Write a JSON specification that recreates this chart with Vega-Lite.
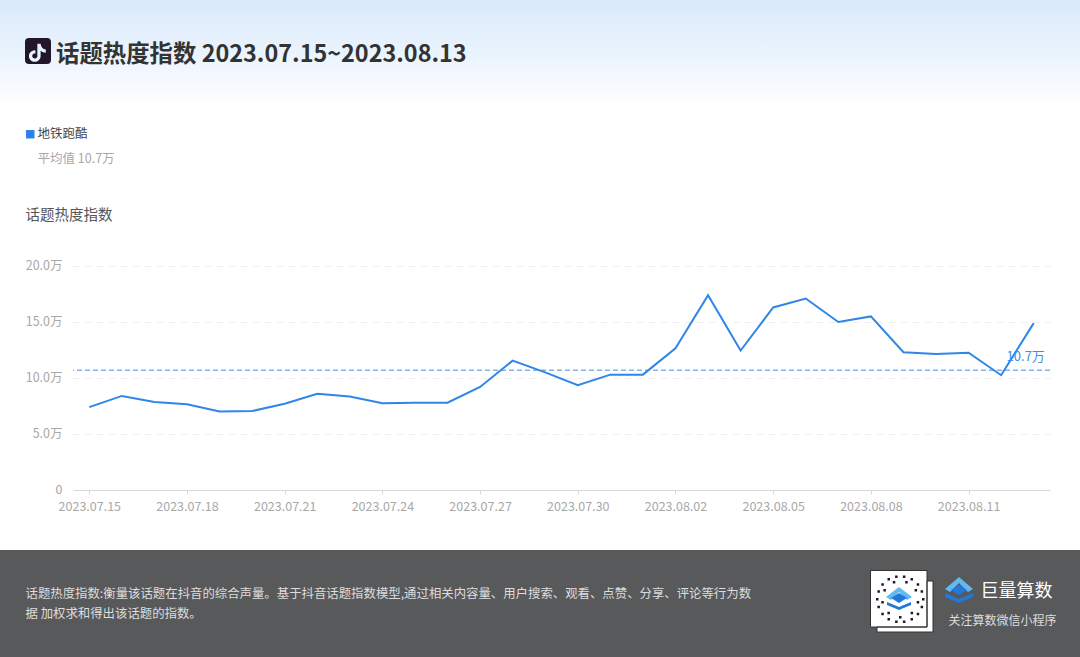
{
"$schema":"https://vega.github.io/schema/vega-lite/v6.json",
"width":977,"height":224,
"autosize":{"type":"none"},
"padding":{"left":73,"top":266,"right":30,"bottom":167},
"background":"#ffffff",
"config":{"font":"Noto Sans CJK SC","view":{"stroke":null}},
"title":{"text":"话题热度指数 2023.07.15~2023.08.13","anchor":"start","frame":"group","dx":-17,"dy":68,"offset":0,"fontSize":23.4,"fontWeight":"bold","color":"#333333","font":"Noto Sans CJK SC","zindex":5},
"datasets":{"trend":[
{"date":"2023.07.15","value":74000,"series":"地铁跑酷"},
{"date":"2023.07.16","value":84000,"series":"地铁跑酷"},
{"date":"2023.07.17","value":78500,"series":"地铁跑酷"},
{"date":"2023.07.18","value":76500,"series":"地铁跑酷"},
{"date":"2023.07.19","value":70000,"series":"地铁跑酷"},
{"date":"2023.07.20","value":70500,"series":"地铁跑酷"},
{"date":"2023.07.21","value":77000,"series":"地铁跑酷"},
{"date":"2023.07.22","value":86000,"series":"地铁跑酷"},
{"date":"2023.07.23","value":83500,"series":"地铁跑酷"},
{"date":"2023.07.24","value":77500,"series":"地铁跑酷"},
{"date":"2023.07.25","value":78000,"series":"地铁跑酷"},
{"date":"2023.07.26","value":78000,"series":"地铁跑酷"},
{"date":"2023.07.27","value":92000,"series":"地铁跑酷"},
{"date":"2023.07.28","value":115500,"series":"地铁跑酷"},
{"date":"2023.07.29","value":105000,"series":"地铁跑酷"},
{"date":"2023.07.30","value":93500,"series":"地铁跑酷"},
{"date":"2023.07.31","value":103000,"series":"地铁跑酷"},
{"date":"2023.08.01","value":103000,"series":"地铁跑酷"},
{"date":"2023.08.02","value":126500,"series":"地铁跑酷"},
{"date":"2023.08.03","value":174000,"series":"地铁跑酷"},
{"date":"2023.08.04","value":124500,"series":"地铁跑酷"},
{"date":"2023.08.05","value":163000,"series":"地铁跑酷"},
{"date":"2023.08.06","value":171000,"series":"地铁跑酷"},
{"date":"2023.08.07","value":150000,"series":"地铁跑酷"},
{"date":"2023.08.08","value":155000,"series":"地铁跑酷"},
{"date":"2023.08.09","value":123000,"series":"地铁跑酷"},
{"date":"2023.08.10","value":121500,"series":"地铁跑酷"},
{"date":"2023.08.11","value":122500,"series":"地铁跑酷"},
{"date":"2023.08.12","value":102500,"series":"地铁跑酷"},
{"date":"2023.08.13","value":149000,"series":"地铁跑酷"}
],"mean":[{"date":"2023.08.13","value":107000,"series":"平均值 10.7万","label":"10.7万"}]},
"resolve":{"axis":{"x":"independent","y":"independent"}},
"layer":[
{"data":{"name":"trend"},"mark":{"type":"line","strokeWidth":2,"interpolate":"linear"},
"encoding":{
"x":{"field":"date","type":"ordinal","sort":null,"scale":{"type":"point","padding":0.5},
"axis":{"orient":"bottom","zindex":4,"values":["2023.07.15","2023.07.18","2023.07.21","2023.07.24","2023.07.27","2023.07.30","2023.08.02","2023.08.05","2023.08.08","2023.08.11"],"labelAngle":0,"labelColor":"#a8a8a8","labelFontSize":12.5,"labelPadding":6,"tickColor":"#d9d9d9","tickSize":4,"domainColor":"#d9d9d9","grid":false,
"title":["话题热度指数:衡量该话题在抖音的综合声量。基于抖音话题指数模型,通过相关内容量、用户搜索、观看、点赞、分享、评论等行为数","据 加权求和得出该话题的指数。"],"titleColor":"#dddddd","titleFontSize":12.4,"titleFontWeight":"normal","titleX":-48,"titleY":97,"titleAlign":"left","titleAnchor":"start","titleBaseline":"top","titleLineHeight":20}},
"y":{"field":"value","type":"quantitative","scale":{"domain":[0,200000]},
"axis":{"orient":"left","values":[0,50000,100000,150000,200000],"labelExpr":"datum.value===0?'0':format(datum.value/10000,'.1f')+'万'","labelColor":"#a8a8a8","labelFontSize":12.5,"labelPadding":11,"labelOffset":-1,"domain":false,"ticks":false,"grid":true,"gridColor":"#eeeeee","gridDash":[6,6],
"title":"话题热度指数","titleColor":"#555555","titleFontSize":14.5,"titleFontWeight":"normal","titleAngle":0,"titleX":-48,"titleY":-51,"titleAlign":"left","titleBaseline":"middle"}},
"color":{"field":"series","type":"nominal","scale":{"domain":["地铁跑酷","平均值 10.7万"],"range":["#2f86e8","#2f86e8"]},
"legend":{"title":null,"orient":"none","legendX":-49,"legendY":-138,"zindex":6,"padding":0,"rowPadding":12,"labelFontSize":12.5,"labelOffset":1,"symbolType":"square","symbolSize":50,"symbolFillColor":"#2b7de9",
"encode":{"labels":{"update":{"fill":{"signal":"datum.value==='地铁跑酷'?'#444444':'#a8a8a8'"}}},"symbols":{"update":{"fill":{"value":"#2b7de9"},"opacity":{"signal":"datum.value==='地铁跑酷'?1:0"}}}}}}
}},
{"data":{"name":"mean"},"mark":{"type":"rule","strokeWidth":1,"strokeDash":[5,3],"color":"#3d8fe8"},
"encoding":{"y":{"field":"value","type":"quantitative","axis":null}}},
{"data":{"name":"mean"},"mark":{"type":"text","dx":-8,"dy":-13,"fontSize":13,"color":"#3d8fe8"},
"encoding":{"x":{"field":"date","type":"ordinal","sort":null,"axis":null},"y":{"field":"value","type":"quantitative","axis":null},"text":{"field":"label"}}},
{"data":{"values":[]},"mark":{"type":"point","filled":true},
"encoding":{
"x":{"field":"date","type":"ordinal","sort":null,"axis":{"orient":"top","zindex":4,"domain":false,"ticks":false,"labels":false,"grid":false,"title":"关注算数微信小程序","titleColor":"#dddddd","titleFontSize":12,"titleFontWeight":"normal","titleAlign":"left","titleBaseline":"middle","titleAnchor":"start","titleX":875,"titleY":354}},
"y":{"field":"value","type":"quantitative","axis":{"orient":"right","zindex":4,"domain":false,"ticks":false,"labels":false,"grid":false,"title":"巨量算数","titleColor":"#ffffff","titleFontSize":18,"titleFontWeight":"normal","titleAngle":0,"titleAlign":"left","titleBaseline":"middle","titleX":-70,"titleY":325}},
"shape":{"field":"k1","type":"nominal","scale":{"domain":["header"],"range":["M0 0 H1080 V110 H0 Z"]},"legend":{"title":null,"orient":"none","legendX":-74,"legendY":-267,"padding":0,"zindex":0,"labelExpr":"''","labelFontSize":2,"symbolSize":4,"symbolStrokeWidth":0,"symbolStrokeColor":"transparent","symbolOpacity":1,"symbolFillColor":{"value":{"gradient":"linear","x1":0,"y1":0,"x2":0,"y2":1,"stops":[{"offset":0,"color":"#d9e9fb"},{"offset":0.45,"color":"#e9f3fd"},{"offset":1,"color":"#ffffff"}]}}}},
"opacity":{"field":"k3","type":"nominal","scale":{"domain":["footer"],"range":[1]},"legend":{"title":null,"orient":"none","legendX":-74,"legendY":-267,"padding":0,"zindex":0,"labelExpr":"''","labelFontSize":2,"symbolSize":4,"symbolStrokeWidth":0,"symbolStrokeColor":"transparent","symbolFillColor":"#58595b","symbolType":"M0 550 H1080 V657 H0 Z"}},
"strokeWidth":{"field":"k6","type":"nominal","scale":{"domain":["cards"],"range":[1]},"legend":{"title":null,"orient":"none","legendX":-74,"legendY":-267,"padding":0,"zindex":1,"labelExpr":"''","labelFontSize":2,"symbolSize":4,"symbolOpacity":1,"symbolFillColor":"#ffffff","symbolStrokeColor":"#333333","symbolType":"M871.5 571.5 H928 V628 H871.5 Z M928 582 H934 V633 H878 V628 H928 Z"}},
"strokeDash":{"field":"k7","type":"nominal","scale":{"domain":["dark"],"range":[[1,0]]},"legend":{"title":null,"orient":"none","legendX":-74,"legendY":-267,"padding":0,"zindex":2,"labelExpr":"''","labelFontSize":2,"symbolSize":4,"symbolOpacity":1,"symbolStrokeWidth":0,"symbolStrokeColor":"transparent","symbolFillColor":"#221729","symbolType":"M29 38 Q25 38 25 42 V60 Q25 64 29 64 H47 Q51 64 51 60 V42 Q51 38 47 38 Z M37.35 43.7 H40.6 Q41.25 48.9 45.8 49.55 V52.8 Q42.55 52.8 40.6 50.85 V55.4 A5.85 5.85 0 1 1 35.4 50.2 V53.45 A2.6 2.6 0 1 0 37.35 55.4 Z M922 598 h2.5 v2.5 h-2.5 Z M920.6 605.8 h2.5 v2.5 h-2.5 Z M916.7 612.7 h2.5 v2.5 h-2.5 Z M910.5 618 h2.5 v2.5 h-2.5 Z M902.9 620.5 h2.5 v2.5 h-2.5 Z M895.1 620.5 h2.5 v2.5 h-2.5 Z M887.5 618 h2.5 v2.5 h-2.5 Z M881.3 612.7 h2.5 v2.5 h-2.5 Z M877.4 605.8 h2.5 v2.5 h-2.5 Z M876 598 h2.5 v2.5 h-2.5 Z M877.4 590.2 h2.5 v2.5 h-2.5 Z M881.3 583.3 h2.5 v2.5 h-2.5 Z M887.5 578 h2.5 v2.5 h-2.5 Z M895.1 575.5 h2.5 v2.5 h-2.5 Z M902.9 575.5 h2.5 v2.5 h-2.5 Z M910.5 578 h2.5 v2.5 h-2.5 Z M916.7 583.3 h2.5 v2.5 h-2.5 Z M920.6 590.2 h2.5 v2.5 h-2.5 Z M916.7 601.1 h2.5 v2.5 h-2.5 Z M910.6 611.8 h2.5 v2.5 h-2.5 Z M899 616 h2.5 v2.5 h-2.5 Z M887.4 611.8 h2.5 v2.5 h-2.5 Z M881.3 601.1 h2.5 v2.5 h-2.5 Z M883.4 589 h2.5 v2.5 h-2.5 Z M892.8 581.1 h2.5 v2.5 h-2.5 Z M905.2 581.1 h2.5 v2.5 h-2.5 Z M914.6 589 h2.5 v2.5 h-2.5 Z"}},
"fill":{"field":"k8","type":"nominal","scale":{"domain":["light"],"range":["#62b8f0"]},"legend":{"title":null,"orient":"none","legendX":-74,"legendY":-267,"padding":0,"zindex":2,"labelExpr":"''","labelFontSize":2,"symbolSize":4,"symbolOpacity":1,"symbolStrokeWidth":0,"symbolStrokeColor":"transparent","symbolType":"M945 589 L959 577 L973 589 L968 592 L959 583 L950 592 Z M886 597 L899 587 L912 597 L907 600 L899 592 L891 600 Z"}},
"stroke":{"field":"k9","type":"nominal","scale":{"domain":["deep"],"range":["#2178dc"]},"legend":{"title":null,"orient":"none","legendX":-74,"legendY":-267,"padding":0,"zindex":3,"labelExpr":"''","labelFontSize":2,"symbolSize":4,"symbolOpacity":1,"symbolStrokeWidth":0,"symbolFillColor":"#2178dc","symbolType":"M951 590 L959 585 L967 590 L959 595 Z M891 598 L899 593 L907 598 L899 603 Z M945 593 L959 599 L973 593 L973 597 L959 603 L945 597 Z M887 602 L899 607 L911 602 L911 605 L899 610 L887 605 Z"}}
}}
]
}
